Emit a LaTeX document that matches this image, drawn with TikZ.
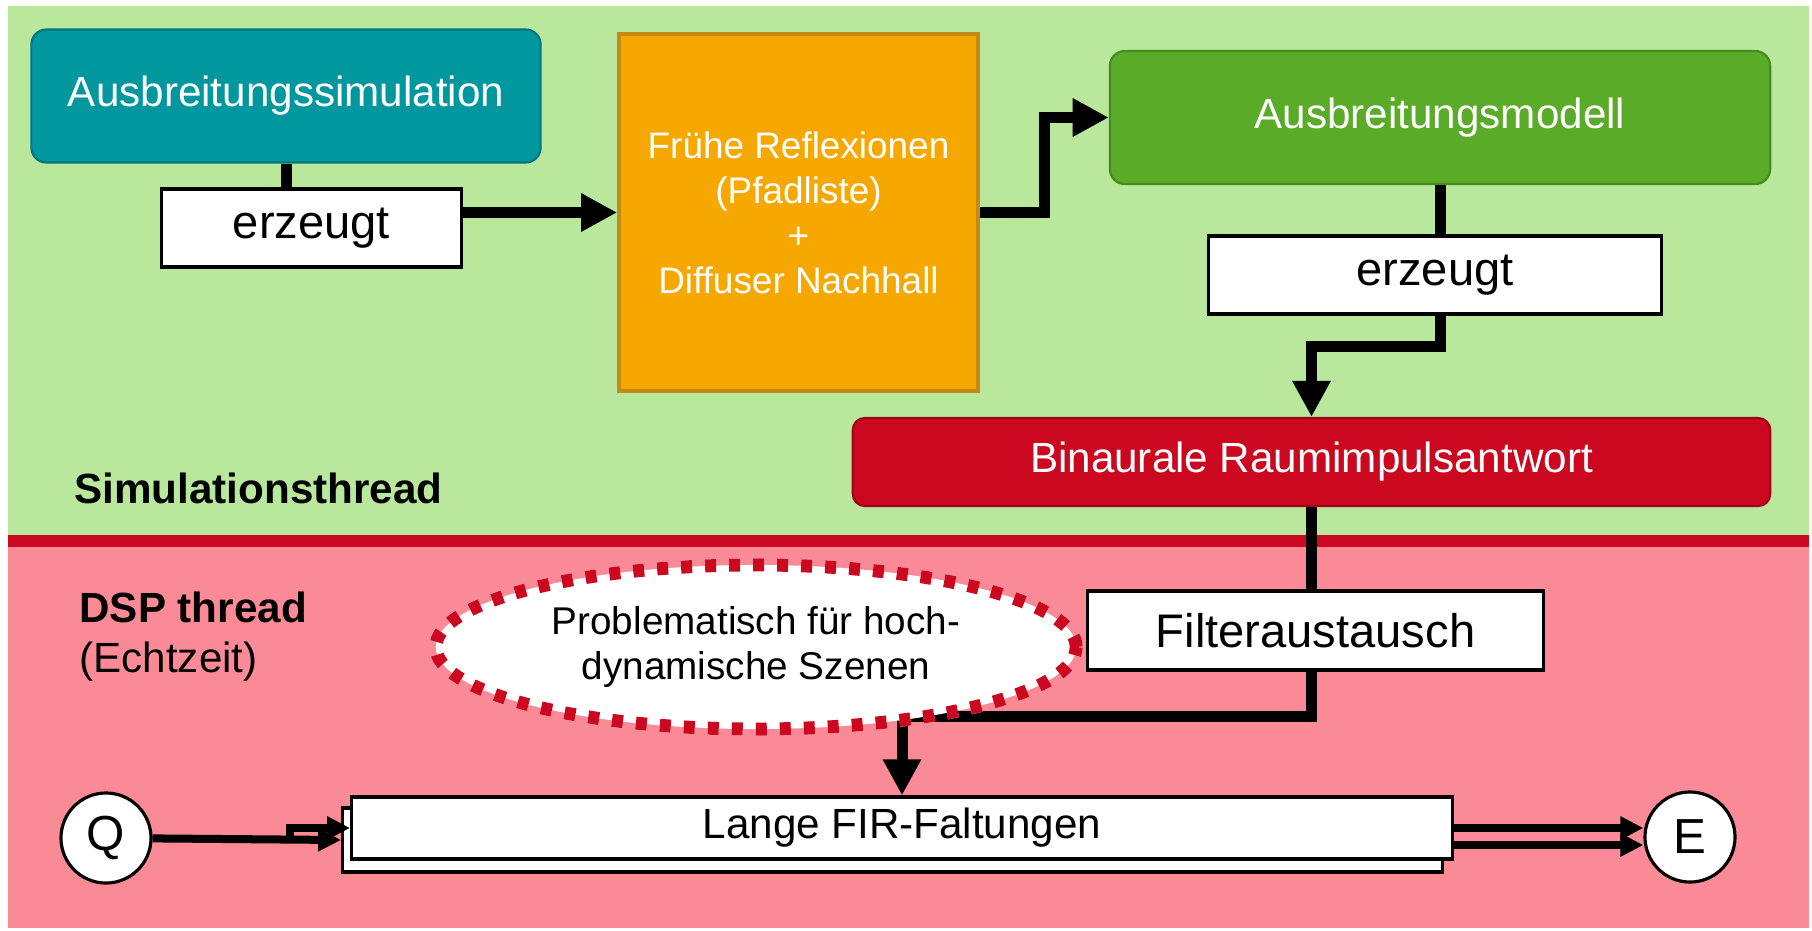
\documentclass[tikz,border=0pt]{standalone}
\usepackage{fontspec}
\setmainfont{Liberation Sans}
\usetikzlibrary{positioning,shapes.geometric,arrows.meta}
\definecolor{txt}{HTML}{000000}
\definecolor{bgGn}{HTML}{B9E89D}
\definecolor{bgRd}{HTML}{FA8A96}
\definecolor{lnRd}{HTML}{CB0820}
\definecolor{simF}{HTML}{01979F}
\definecolor{simB}{HTML}{03767D}
\definecolor{frF}{HTML}{F6A800}
\definecolor{frB}{HTML}{C38A14}
\definecolor{modF}{HTML}{5AAB28}
\definecolor{modB}{HTML}{478A20}
\definecolor{brF}{HTML}{CB0820}
\definecolor{brB}{HTML}{9E0516}

\begin{document}
\begin{tikzpicture}[x=0.01cm,y=-0.01cm,text=txt,
  >={Triangle[length=3.6mm,width=3.6mm]},
  box/.style={align=center,inner sep=2pt,line width=0.6pt},
  sim/.style={box,rounded corners=1.5mm,fill=simF,draw=simB,text=white,font=\fontsize{12}{14}\selectfont},
  erz/.style={box,fill=white,draw=black,line width=0.9pt,font=\fontsize{13.4}{15}\selectfont},
  fr/.style={box,fill=frF,draw=frB,line width=1pt,text=white,font=\fontsize{10.5}{12.8}\selectfont},
  mdl/.style={box,rounded corners=1.5mm,fill=modF,draw=modB,text=white,font=\fontsize{12}{14}\selectfont},
  brir/.style={box,rounded corners=1.2mm,fill=brF,draw=brB,text=white,font=\fontsize{12}{14}\selectfont},
  fir/.style={box,fill=white,draw=black,line width=0.9pt,font=\fontsize{12}{14}\selectfont},
  io/.style={circle,fill=white,draw=black,line width=0.9pt,minimum size=9mm,inner sep=0pt,font=\fontsize{14}{16}\selectfont},
  thr/.style={anchor=west,font=\fontsize{12}{14}\selectfont,align=left},
  ln/.style={line width=1.1mm},
  arr/.style={ln,->},
  tarr/.style={line width=0.8mm,-{Triangle[length=2.3mm,width=2.2mm]}}]

% thread areas
\useasboundingbox (0,0) rectangle (1812,930);
\fill[bgGn] (8,6) rectangle (1809,535);
\fill[lnRd] (8,535) rectangle (1809,547);
\fill[bgRd] (8,547) rectangle (1809,928);

\node[thr,font=\fontsize{12}{14}\selectfont\bfseries] (simthr) at (62,488) {Simulationsthread};
\node[thr,font=\fontsize{12}{14}\selectfont\bfseries] (dspthr) at (67,607) {DSP thread};
\node[thr] (echt) at (67,662) {(Echtzeit)};

% simulation thread
\node[sim,minimum width=50.9mm,minimum height=13.3mm] (asim) at (286,96) {Ausbreitungssimulation};
\node[erz,minimum width=29.9mm,minimum height=7.8mm] (erz1) at (311.5,228) {erzeugt};
\node[fr,minimum width=35.9mm,minimum height=35.7mm] (refl) at (798.5,212.5)
  {Frühe Reflexionen\\(Pfadliste)\\+\\Diffuser Nachhall};
\node[mdl,minimum width=66mm,minimum height=13.3mm] (amod) at (1440,117.5) {Ausbreitungsmodell};
\node[erz,minimum width=45.2mm,minimum height=7.8mm] (erz2) at (1435,275) {erzeugt};
\node[brir,minimum width=91.7mm,minimum height=8.8mm] (brir) at (1311.5,462) {Binaurale Raumimpulsantwort};

% dsp thread
\node[erz,minimum width=45.5mm,minimum height=7.9mm] (filt) at (1315.5,630.5) {Filteraustausch};
\node[fir,minimum width=109.9mm,minimum height=6.4mm] (firb) at (892.5,840) {};
\node[fir,minimum width=110mm,minimum height=6.2mm] (fir) at (902,828) {Lange FIR-Faltungen};
\node[io] (q) at (106,838) {Q};
\node[io] (e) at (1690,837) {E};

\draw[ln] (asim.south) -- (asim.south |- erz1.north);
\draw[arr] (erz1.east |- refl.west) -- (refl.west);
\draw[arr] (refl.east) -- ++(65,0) |- (amod.west);
\draw[ln] (amod.south) -- (amod.south |- erz2.north);
\draw[arr] (amod.south |- erz2.south) -- ++(0,31) -| (brir.north);
\draw[ln] (brir.south) -- (brir.south |- filt.north);
\draw[arr] (brir.south |- filt.south) -- ++(0,45) -| (fir.north);

\coordinate (qsplit) at (290,840);
\draw[tarr] (q) -- (firb.west);
\draw[tarr] (qsplit) |- (fir.west);
\draw[tarr] (fir.east) -- (fir.east -| e.west);
\draw[tarr] ([yshift=-1.7mm]fir.east) -- ([yshift=-1.7mm]fir.east -| e.west);

% note on top of the lines
\node[ellipse,fill=white,minimum width=64mm,minimum height=16.4mm,inner sep=0pt,align=center,
  font=\fontsize{11}{12.8}\selectfont,
  preaction={draw=white,line width=1.3mm},draw=lnRd,line width=1.3mm,dash pattern=on 1.1mm off 1.3mm]
  (prob) at (756,647) {Problematisch für hoch-\\dynamische Szenen};

\end{tikzpicture}
\end{document}
